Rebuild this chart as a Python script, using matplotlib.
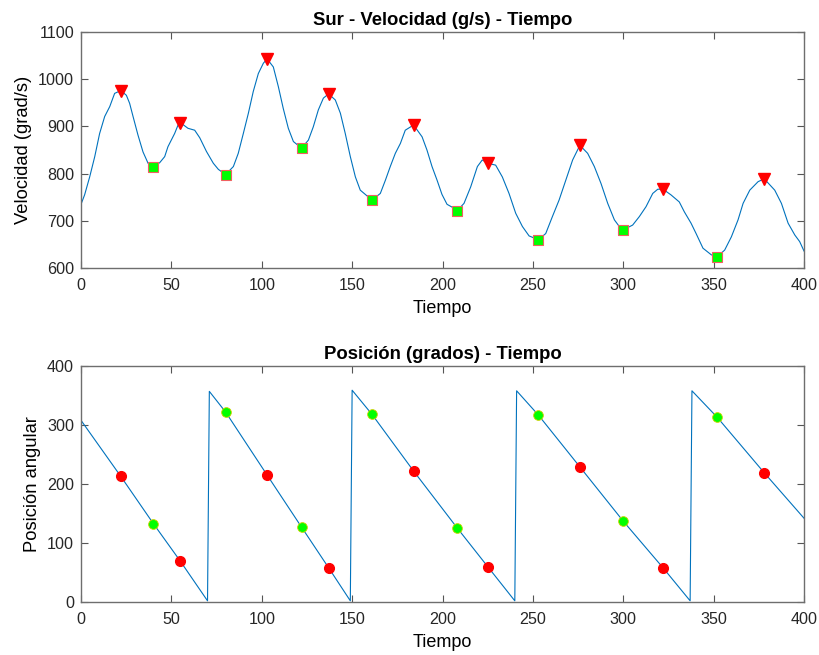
import numpy as np
import matplotlib.pyplot as plt

plt.rcParams['font.family'] = ['Liberation Sans', 'DejaVu Sans']

t_vel = [0, 2, 4.8, 7.6, 10.3, 13.1, 15.9, 18.6, 22, 25.1, 26.9, 28.8, 31.5, 34.3, 37.1,
         40, 43.5, 46.3, 48.1, 51.8, 53.7, 55, 59.2, 62.9, 65.7, 69.4, 73.2, 76, 80,
         84.3, 87, 89.8, 92.6, 95.3, 98.1, 100.9, 103, 106.4, 109.2, 111.9, 114.7,
         117.5, 122, 125.8, 128.5, 131.3, 134.1, 137, 140.7, 143.5, 146.2, 149, 151.8,
         154.5, 158.2, 161, 165.6, 168.4, 171.1, 173.9, 176.7, 179.4, 184, 188.7,
         191.4, 194.2, 197, 199.7, 202.5, 205.3, 208, 211.9, 215.6, 219.3, 222, 225,
         229.4, 233.1, 236.8, 240.5, 244.2, 247.9, 253, 257.1, 260.8, 264.5, 268.2,
         272, 276, 280.3, 284, 287.7, 291.4, 295.1, 297.8, 300, 305.2, 308.9, 312.6,
         316.3, 319.1, 322, 326.4, 331, 333.8, 337.5, 340.3, 344.1, 348.7, 352, 356.1,
         359.8, 363.5, 366.3, 370, 374.6, 378, 383.8, 387.5, 391.2, 394.9, 397.6, 400]
vel = [735, 755, 793, 836, 885, 921, 942, 970, 976, 966, 949, 921, 882, 846, 822,
       815, 823, 836, 857, 885, 903, 908, 896, 892, 876, 847, 822, 809, 798,
       815, 843, 885, 928, 974, 1012, 1034, 1043, 1026, 984, 938, 896,
       868, 854, 871, 899, 935, 960, 969, 956, 928, 885, 836, 793,
       765, 753, 744, 758, 786, 815, 843, 864, 892, 903, 878,
       850, 815, 786, 756, 735, 729, 721, 737, 772, 815, 829, 822,
       818, 793, 758, 716, 688, 668, 660, 673, 709, 744, 786,
       829, 860, 843, 815, 779, 737, 702, 688, 681, 691, 709, 730,
       758, 767, 767, 755, 740, 719, 695, 673, 642, 628, 624, 638,
       666, 702, 737, 765, 783, 789, 765, 737, 695, 670, 656, 636]

# maximos y minimos de la velocidad
t_max = [22, 55, 103, 137, 184, 225, 276, 322, 378]
v_max = [976, 908, 1043, 969, 903, 822, 860, 767, 789]
t_min = [40, 80, 122, 161, 208, 253, 300, 352]
v_min = [815, 798, 854, 744, 721, 660, 681, 624]

# posicion angular (grados)
t_pos = [0, 22, 40, 55, 70, 71, 80, 103, 122, 137, 149, 150, 161, 184, 208, 225,
         240, 241, 253, 276, 300, 322, 337, 338, 352, 378, 400]
pos = [308, 213, 133, 69, 2, 357, 322, 215, 127, 58, 2, 359, 318, 222, 126, 60,
       2, 358, 317, 229, 137, 58, 2, 358, 313, 219, 142]
p_max = [213, 69, 215, 58, 222, 60, 229, 58, 219]
p_min = [133, 322, 127, 318, 126, 317, 137, 313]

azul = '#0072BD'
rojo = '#FF0000'
verde = '#00FF00'

fig = plt.figure(figsize=(8.19, 6.55), dpi=100)
ax1 = fig.add_axes([0.0989, 0.5908, 0.8828, 0.3603])
ax2 = fig.add_axes([0.0989, 0.0809, 0.8828, 0.3603])

ax1.plot(t_vel, vel, color=azul, lw=0.8)
ax1.plot(t_max, v_max, 'v', color=rojo, ms=8, mec=rojo)
ax1.plot(t_min, v_min, 's', mfc=verde, mec='#F06060', ms=6.5, mew=0.8)
ax1.set_xlim(0, 400)
ax1.set_ylim(600, 1100)
ax1.set_yticks(np.arange(600, 1101, 100))
ax1.set_title('Sur - Velocidad (g/s) - Tiempo', fontsize=13.3, fontweight='bold', pad=5)
ax1.set_ylabel('Velocidad (grad/s)', fontsize=13.2, labelpad=4)
ax1.set_xlabel('Tiempo', fontsize=13, labelpad=5)

ax2.plot(t_pos, pos, color=azul, lw=0.8)
ax2.plot(t_max, p_max, 'o', mfc=rojo, mec=rojo, ms=7)
ax2.plot(t_min, p_min, 'o', mfc=verde, mec='#D0D000', ms=7, mew=0.6)
ax2.set_xlim(0, 400)
ax2.set_ylim(0, 400)
ax2.set_yticks(np.arange(0, 401, 100))
ax2.set_title('Posición (grados) - Tiempo', fontsize=13.3, fontweight='bold', pad=5)
ax2.set_ylabel('Posición angular', fontsize=13.2, labelpad=4)
ax2.set_xlabel('Tiempo', fontsize=13, labelpad=5)

for ax in (ax1, ax2):
    ax.set_xticks(np.arange(0, 401, 50))
    ax.tick_params(direction='in', top=True, right=True, length=5, width=0.8,
                   color='#555555', labelsize=11.6, labelcolor='#262626')
    ax.tick_params(axis='x', pad=7)
    ax.tick_params(axis='y', pad=5)
    for s in ax.spines.values():
        s.set_color('#6e6e6e')
        s.set_linewidth(1.0)

fig.savefig('out.png', dpi=100)
